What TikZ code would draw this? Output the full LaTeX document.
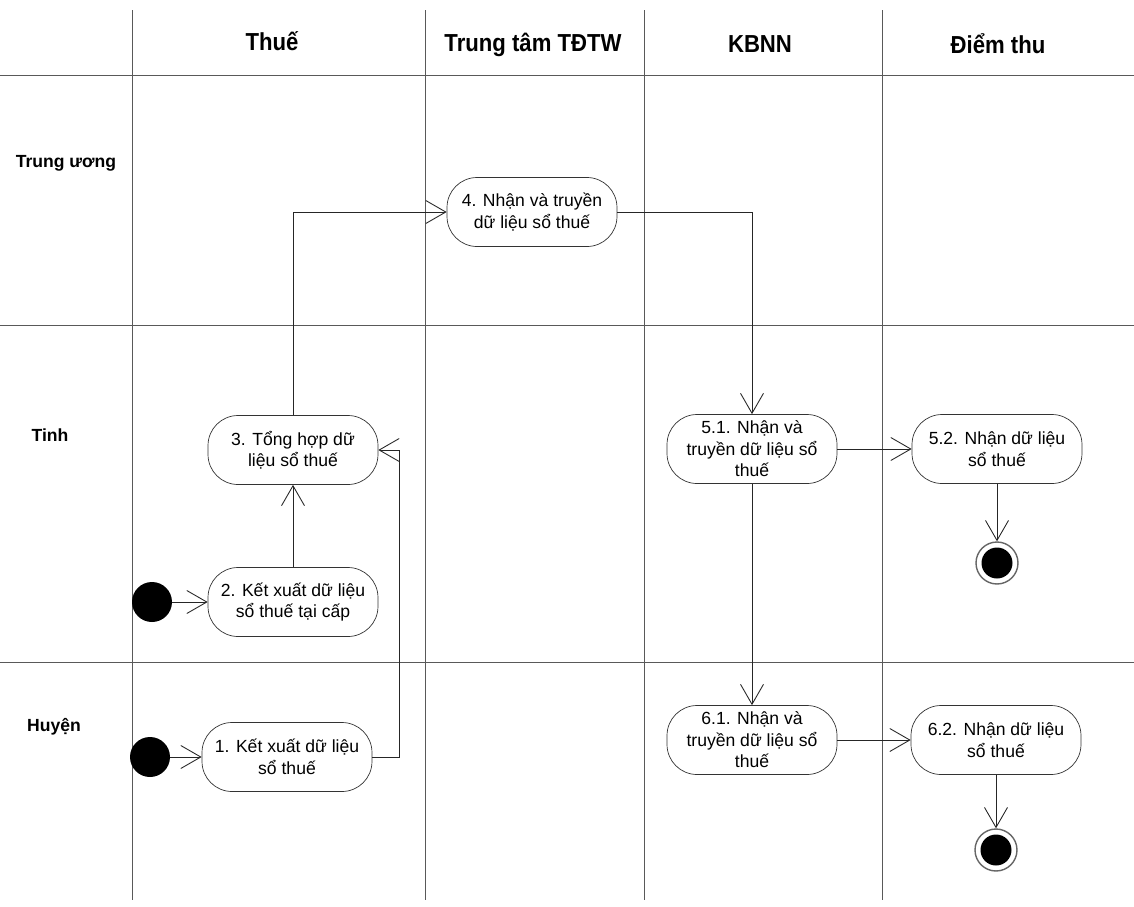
\documentclass[tikz,border=0pt]{standalone}
\usepackage{fontspec}
\setmainfont{Liberation Sans}
\newfontfamily\headfont[FakeStretch=0.9]{Liberation Sans}
\usetikzlibrary{arrows.meta, positioning}

\tikzset{
    action/.style={draw=black!80, rounded corners=0.6cm, minimum width=3.4cm,
        minimum height=1.38cm, align=center, inner sep=1.5pt,
        font=\fontsize{10}{12.2}\selectfont},
    initial/.style={circle, fill=black, minimum size=0.8cm, inner sep=0pt},
    final/.style={circle, draw=black!60, line width=0.8pt, minimum size=0.84cm,
        inner sep=0pt,
        path picture={\fill[black] (path picture bounding box.center) circle (0.31cm);}},
    flow/.style={-{Straight Barb[length=4mm, width=4.6mm]}, black!85, line width=0.5pt},
    lane/.style={black!65, line width=0.5pt},
    lanetitle/.style={anchor=base, font=\headfont\bfseries\fontsize{14}{16}\selectfont},
    leveltitle/.style={font=\bfseries\fontsize{10}{12}\selectfont}
}

\begin{document}
\begin{tikzpicture}[x=0.02cm, y=-0.02cm]
        \useasboundingbox (0,0) rectangle (1134,907);

        % Swimlanes
        \foreach \y in {75,325,662}
            \draw[lane] (0,\y) -- (1134,\y);
        \foreach \x in {132,425,644,882}
            \draw[lane] (\x,10) -- (\x,900);

        % Lane titles
        \node[lanetitle] (thue) at (272,50) {Thuế};
        \node[lanetitle] (tdtw) at (533,51) {Trung tâm TĐTW};
        \node[lanetitle] (kbnn) at (760,52) {KBNN};
        \node[lanetitle] (diemthu) at (998,53) {Điểm thu};

        % Level titles
        \node[leveltitle] (tw) at (66,163) {Trung ương};
        \node[leveltitle] (tinh) at (50,435) {Tinh};
        \node[leveltitle] (huyen) at (54,727) {Huyện};

        % Activities
        \node[action] (act4) at (532,212) {4. Nhận và truyền\\dữ liệu sổ thuế};
        \node[action] (act3) at (293,450) {3. Tổng hợp dữ\\liệu sổ thuế};
        \node[action] (act2) at (293,602) {2. Kết xuất dữ liệu\\sổ thuế tại cấp};
        \node[action] (act1) at (287,757) {1. Kết xuất dữ liệu\\sổ thuế};
        \node[action] (act51) at (752,449) {5.1. Nhận và\\truyền dữ liệu sổ\\thuế};
        \node[action] (act52) at (997,449) {5.2. Nhận dữ liệu\\sổ thuế};
        \node[action] (act61) at (752,740) {6.1. Nhận và\\truyền dữ liệu sổ\\thuế};
        \node[action] (act62) at (996,740) {6.2. Nhận dữ liệu\\sổ thuế};

        % Start and end
        \node[initial] (start2) at (152,602) {};
        \node[initial] (start1) at (150,757) {};
        \node[final] (end1) at (997,563) {};
        \node[final] (end2) at (996,850) {};

        % Flows
        \draw[flow] (start2) -- (act2);
        \draw[flow] (start1) -- (act1);
        \draw[flow] (act2) -- (act3);
        \draw[flow] (act1.east) -- ++(27,0) |- (act3.east);
        \draw[flow] (act3.north) |- (act4.west);
        \draw[flow] (act4.east) -| (act51.north);
        \draw[flow] (act51) -- (act52);
        \draw[flow] (act51) -- (act61);
        \draw[flow] (act52) -- (end1);
        \draw[flow] (act61) -- (act62);
        \draw[flow] (act62) -- (end2);
    \end{tikzpicture}
\end{document}
